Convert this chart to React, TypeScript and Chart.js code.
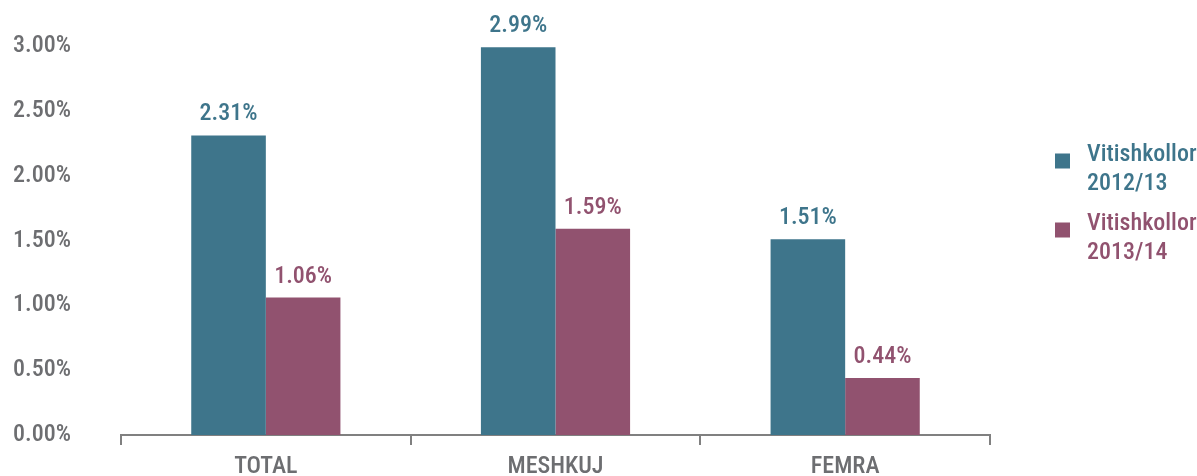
import React, { useEffect, useRef } from 'react';
import { Chart, registerables } from 'chart.js';
Chart.register(...registerables);

const categories = ['TOTAL', 'MESHKUJ', 'FEMRA'];
const series1Label = ['Vitishkollor', '2012/13'];
const series2Label = ['Vitishkollor', '2013/14'];
const series1Values = [2.31, 2.99, 1.51];
const series2Values = [1.06, 1.59, 0.44];
const yMin = 0;
const yMax = 3;
const yStep = 0.5;

const TEAL = '#3e758b';
const PLUM = '#91526f';
const GRAY = '#6d6e71';
const AXIS = '#808080';
const FONT = '"Roboto Condensed", "DejaVu Sans Condensed", sans-serif';
const WEIGHT = '500';
const SIZE = 24;

const valueLabels = {
  id: 'valueLabels',
  afterDatasetsDraw(chart: any) {
    const ctx = chart.ctx;
    ctx.save();
    ctx.font = `${WEIGHT} ${SIZE}px ${FONT}`;
    ctx.textAlign = 'center';
    ctx.textBaseline = 'middle';
    chart.data.datasets.forEach((ds: any, i: number) => {
      const meta = chart.getDatasetMeta(i);
      ctx.fillStyle = ds.backgroundColor;
      meta.data.forEach((el: any, j: number) => {
        ctx.fillText(ds.data[j].toFixed(2) + '%', el.x, el.y - 21);
      });
    });
    ctx.restore();
  },
};

const sideLegend = {
  id: 'sideLegend',
  afterDraw(chart: any) {
    const ctx = chart.ctx;
    ctx.save();
    ctx.font = `${WEIGHT} ${SIZE}px ${FONT}`;
    ctx.textAlign = 'left';
    ctx.textBaseline = 'middle';
    chart.data.datasets.forEach((ds: any, i: number) => {
      const top = 155 + i * 69;
      ctx.fillStyle = ds.backgroundColor;
      ctx.fillRect(1055, top - 1.5, 15, 15);
      (ds.label as string[]).forEach((line: string, k: number) => {
        ctx.fillText(line, 1087, top + k * 29);
      });
    });
    ctx.restore();
  },
};

export default function App() {
  const ref = useRef<HTMLCanvasElement>(null);
  useEffect(() => {
    document.body.style.margin = '0';
    const chart = new Chart(ref.current!, {
      type: 'bar',
      data: {
        labels: categories,
        datasets: [
          { label: series1Label as any, data: series1Values, backgroundColor: TEAL },
          { label: series2Label as any, data: series2Values, backgroundColor: PLUM },
        ],
      },
      plugins: [valueLabels, sideLegend],
      options: {
        responsive: false,
        animation: false,
        layout: { padding: { left: 13, right: 207, top: 46, bottom: 0 } },
        datasets: { bar: { categoryPercentage: 0.515, barPercentage: 1 } },
        plugins: { legend: { display: false }, tooltip: { enabled: false } },
        scales: {
          x: {
            offset: true,
            grid: { display: true, drawOnChartArea: false, drawTicks: true, tickLength: 10, color: AXIS, lineWidth: 2, offset: true },
            border: { display: true, color: AXIS, width: 2 },
            ticks: { color: GRAY, font: { family: FONT, size: SIZE, weight: WEIGHT as any }, padding: 8 },
            afterFit: (axis: any) => { axis.height = 41; },
          },
          y: {
            min: yMin,
            max: yMax,
            grid: { display: false },
            border: { display: false },
            ticks: {
              stepSize: yStep,
              color: GRAY,
              crossAlign: 'far',
              font: { family: FONT, size: SIZE, weight: WEIGHT as any },
              callback: (v: any) => Number(v).toFixed(2) + '%',
            },
            afterFit: (axis: any) => { axis.width = 108; },
          },
        },
      },
    });
    return () => chart.destroy();
  }, []);
  return (
    <div style={{ width: 1197, height: 476 }}>
      <canvas ref={ref} width={1197} height={476} />
    </div>
  );
}
